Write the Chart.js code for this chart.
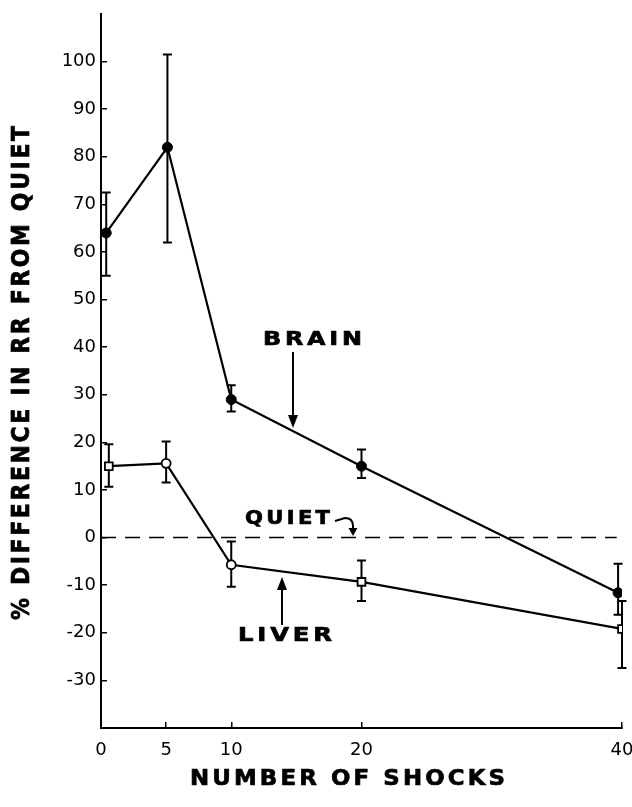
<!DOCTYPE html>
<html>
<head>
<meta charset="utf-8">
<script src="https://cdn.jsdelivr.net/npm/chart.js@4/dist/chart.umd.min.js"></script>
<style>
  html, body { margin: 0; padding: 0; background: #fff; }
  #c { display: block; }
</style>
</head>
<body>
<canvas id="c" width="632" height="807"></canvas>
<script>
// ---- data ----
const xTicks = [0, 5, 10, 20, 40];
const yTicks = [-30, -20, -10, 0, 10, 20, 30, 40, 50, 60, 70, 80, 90, 100];

const brainX  = [0.4, 5.1, 10, 20, 39.7];
const brain   = [64, 82, 29, 15, -11.6];
const brainHi = [72.5, 101.5, 32, 18.5, -5.5];
const brainLo = [55, 62, 26.5, 12.5, -16.2];

const liverX  = [0.6, 5, 10, 20, 40];
const liver   = [15, 15.6, -5.7, -9.3, -19.2];
const liverHi = [19.6, 20.2, -0.8, -4.8, -13.3];
const liverLo = [10.7, 11.6, -10.3, -13.3, -27.4];
const liverStyles = ['rect', 'circle', 'circle', 'rect', 'rect'];

const quietX = [0, 39.6];
const quiet  = [0, 0];

const yTitle = '% DIFFERENCE IN RR FROM QUIET';
const xTitle = 'NUMBER OF SHOCKS';

const toXY = (xs, ys) => xs.map((x, i) => ({ x: x, y: ys[i] }));

function stretchedText(ctx, text, x, y, width, lsPx) {
  // left-aligned text, glyphs widened horizontally (extended heavy typeface look)
  ctx.save();
  ctx.letterSpacing = lsPx + 'px';
  ctx.textAlign = 'left';
  const w = ctx.measureText(text).width - lsPx;
  const sx = width / w;
  ctx.translate(x, y);
  ctx.scale(sx, 1);
  ctx.lineWidth = 0.7;
  ctx.lineJoin = 'round';
  ctx.fillText(text, 0, 0);
  ctx.strokeText(text, 0, 0);
  ctx.restore();
}

const errorBars = {
  id: 'errorBars',
  beforeDatasetsDraw(chart) {
    const { ctx, scales: { x, y } } = chart;
    const sets = [
      [brainX, brainHi, brainLo],
      [liverX, liverHi, liverLo]
    ];
    ctx.save();
    ctx.strokeStyle = '#000';
    ctx.lineWidth = 2;
    sets.forEach(([xs, his, los]) => {
      xs.forEach((xv, i) => {
        const px = x.getPixelForValue(xv);
        const pHi = y.getPixelForValue(his[i]);
        const pLo = y.getPixelForValue(los[i]);
        ctx.beginPath();
        ctx.moveTo(px, pHi); ctx.lineTo(px, pLo);
        ctx.moveTo(px - 4.5, pHi); ctx.lineTo(px + 4.5, pHi);
        ctx.moveTo(px - 4.5, pLo); ctx.lineTo(px + 4.5, pLo);
        ctx.stroke();
      });
    });
    ctx.restore();
  }
};

function arrow(ctx, x, y1, y2) {
  const dir = y2 > y1 ? 1 : -1;
  ctx.beginPath();
  ctx.moveTo(x, y1);
  ctx.lineTo(x, y2 - dir * 10);
  ctx.stroke();
  ctx.beginPath();
  ctx.moveTo(x, y2);
  ctx.lineTo(x - 5, y2 - dir * 13);
  ctx.lineTo(x + 5, y2 - dir * 13);
  ctx.closePath();
  ctx.fill();
}

const annotations = {
  id: 'annotations',
  afterDraw(chart) {
    const ctx = chart.ctx;
    ctx.save();
    ctx.fillStyle = '#000';
    ctx.strokeStyle = '#000';
    ctx.lineWidth = 2;
    ctx.textBaseline = 'middle';

    ctx.font = 'bold 19px "DejaVu Sans"';
    stretchedText(ctx, 'BRAIN', 263, 340, 99, 3);
    stretchedText(ctx, 'QUIET', 245, 519, 85, 3);
    stretchedText(ctx, 'LIVER', 238, 636, 94, 3);

    ctx.lineWidth = 2;
    arrow(ctx, 293, 352, 428);
    arrow(ctx, 282, 625, 577);

    // hooked arrow after QUIET
    ctx.beginPath();
    ctx.moveTo(335, 521);
    ctx.lineTo(345, 518);
    ctx.quadraticCurveTo(353, 518, 353, 526);
    ctx.lineTo(353, 529);
    ctx.stroke();
    ctx.beginPath();
    ctx.moveTo(353, 536);
    ctx.lineTo(348.5, 528);
    ctx.lineTo(357.5, 528);
    ctx.closePath();
    ctx.fill();

    // axis titles
    ctx.font = 'bold 22px "DejaVu Sans"';
    stretchedText(ctx, xTitle, 190, 779, 315, 3);

    ctx.translate(22, 373);
    ctx.rotate(-Math.PI / 2);
    ctx.font = 'bold 25px "DejaVu Sans"';
    stretchedText(ctx, yTitle, -247, 0, 494, 3);
    ctx.restore();
  }
};

const tickFont = { family: '"DejaVu Sans"', size: 18 };

new Chart(document.getElementById('c'), {
  type: 'line',
  data: {
    datasets: [
      {
        label: 'Brain',
        data: toXY(brainX, brain),
        borderColor: '#000',
        borderWidth: 2.2,
        backgroundColor: '#000',
        pointRadius: 5,
        pointBorderWidth: 1,
        pointBackgroundColor: '#000',
        pointBorderColor: '#000',
        tension: 0
      },
      {
        label: 'Liver',
        data: toXY(liverX, liver),
        borderColor: '#000',
        borderWidth: 2.2,
        pointStyle: liverStyles,
        pointRadius: [5.5, 4.5, 4.5, 5.5, 5.5],
        pointBorderWidth: 1.8,
        pointBackgroundColor: '#fff',
        pointBorderColor: '#000',
        tension: 0
      },
      {
        label: 'Quiet',
        data: toXY(quietX, quiet),
        borderColor: '#000',
        borderWidth: 1.5,
        borderDash: [15, 9],
        pointRadius: 0
      }
    ]
  },
  options: {
    responsive: false,
    animation: false,
    devicePixelRatio: 1,
    layout: { padding: { left: 0, right: 10, top: 14, bottom: 0 } },
    plugins: {
      legend: { display: false },
      tooltip: { enabled: false }
    },
    scales: {
      x: {
        type: 'linear',
        min: 0,
        max: 40,
        afterBuildTicks: s => { s.ticks = xTicks.map(v => ({ value: v })); },
        afterFit: s => { s.height = 79; s.paddingLeft = 0; s.paddingRight = 0; },
        ticks: {
          color: '#000',
          font: tickFont,
          padding: 18,
          maxRotation: 0,
          autoSkip: false
        },
        grid: {
          display: true,
          drawOnChartArea: false,
          drawTicks: true,
          tickLength: -6,
          color: '#000',
          lineWidth: 1.5
        },
        border: { display: true, color: '#000', width: 2 }
      },
      y: {
        type: 'linear',
        min: -40,
        max: 110,
        afterBuildTicks: s => { s.ticks = yTicks.map(v => ({ value: v })); },
        afterFit: s => { s.width = 101; s.paddingTop = 0; s.paddingBottom = 0; },
        ticks: {
          color: '#000',
          font: tickFont,
          padding: 11,
          autoSkip: false
        },
        grid: {
          display: true,
          drawOnChartArea: false,
          drawTicks: true,
          tickLength: -6,
          color: '#000',
          lineWidth: 1.5
        },
        border: { display: true, color: '#000', width: 2 }
      }
    }
  },
  plugins: [errorBars, annotations]
});
</script>
</body>
</html>
